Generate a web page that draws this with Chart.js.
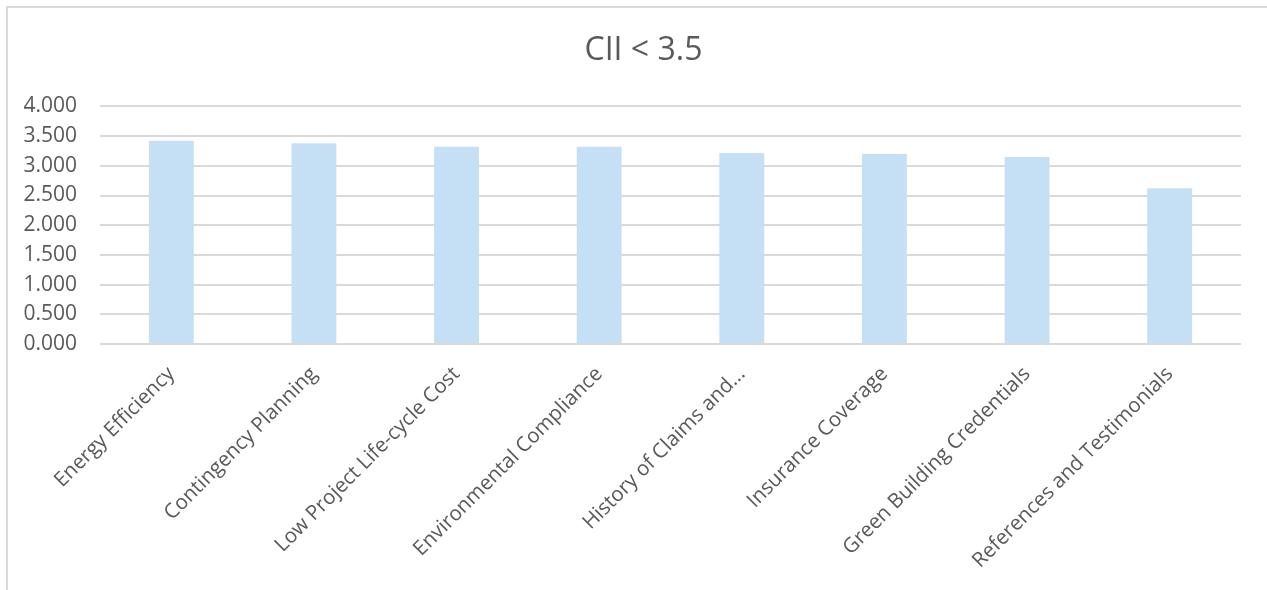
<!DOCTYPE html>
<html>
<head>
<meta charset="utf-8">
<title>CII &lt; 3.5</title>
<script src="https://cdn.jsdelivr.net/npm/chart.js@4/dist/chart.umd.min.js"></script>
<style>
  html, body { margin: 0; padding: 0; background: #fff; overflow: hidden; }
  .frame {
    position: absolute; left: 6px; top: 6px; right: 0; bottom: 0;
    border-top: 2px solid #d9d9d9; border-left: 2px solid #d9d9d9;
  }
  .wrap { position: absolute; left: 0; top: 0; width: 1267px; height: 590px; }
</style>
</head>
<body>
<div class="frame"></div>
<div class="wrap"><canvas id="ciiChart" width="1267" height="590"></canvas></div>
<script>
// criteria and mean scores
const criteria = [
  'Energy Efficiency',
  'Contingency Planning',
  'Low Project Life-cycle Cost',
  'Environmental Compliance',
  'History of Claims and...',
  'Insurance Coverage',
  'Green Building Credentials',
  'References and Testimonials'
];
const scores = [3.42, 3.38, 3.32, 3.32, 3.215, 3.20, 3.15, 2.62];
const yTicks = [0, 0.5, 1, 1.5, 2, 2.5, 3, 3.5, 4];

const textColor = '#595959';
const gridColor = '#d9d9d9';

// centre the title on the frame rather than on the padded layout
const titleSpan = {
  id: 'titleSpan',
  afterLayout(chart) {
    if (chart.titleBlock) {
      chart.titleBlock.left = 20;
      chart.titleBlock.right = chart.width;
    }
  }
};

const ctx = document.getElementById('ciiChart').getContext('2d');
new Chart(ctx, {
  type: 'bar',
  data: {
    labels: criteria,
    datasets: [{
      label: 'CII < 3.5',
      data: scores,
      backgroundColor: '#c5e0f4',
      barPercentage: 0.315,
      categoryPercentage: 1
    }]
  },
  options: {
    responsive: false,
    animation: false,
    layout: { padding: { left: 0, right: 26, top: 0, bottom: 0 } },
    plugins: {
      legend: { display: false },
      tooltip: { enabled: false },
      title: {
        display: true,
        text: 'CII < 3.5',
        color: textColor,
        font: { family: 'Open Sans', size: 32, weight: 'normal' },
        padding: { top: 32, bottom: 36 }
      }
    },
    scales: {
      y: {
        min: 0,
        max: 4,
        afterFit: scale => { scale.width = 100; },
        afterBuildTicks: scale => { scale.ticks = yTicks.map(v => ({ value: v })); },
        border: { display: false },
        grid: { color: gridColor, lineWidth: 2, drawTicks: false },
        ticks: {
          color: textColor,
          padding: 23,
          font: { family: 'Open Sans', size: 21 },
          callback: v => v.toFixed(3)
        }
      },
      x: {
        afterFit: scale => { scale.height = 246; },
        border: { display: false },
        grid: { display: false },
        ticks: {
          color: textColor,
          minRotation: 45,
          maxRotation: 45,
          autoSkip: false,
          padding: 10,
          font: { family: 'Open Sans', size: 20.5 }
        }
      }
    }
  },
  plugins: [titleSpan]
});
</script>
</body>
</html>
